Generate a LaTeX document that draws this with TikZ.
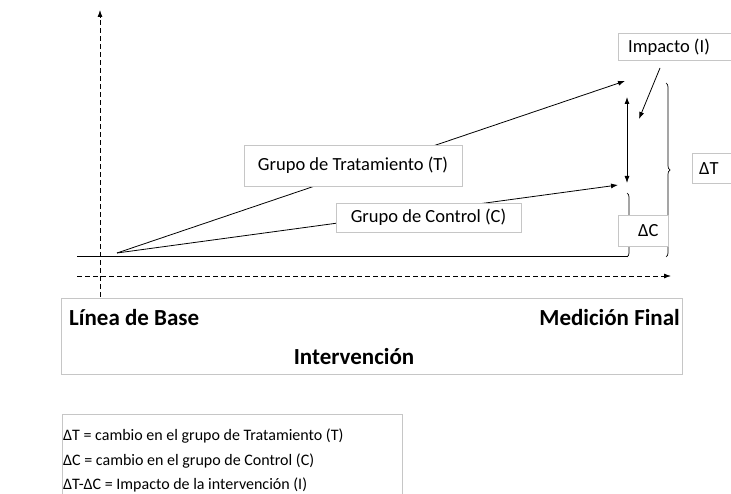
\documentclass[tikz,border=0pt]{standalone}
\usepackage{fontspec}
\setmainfont{Carlito}
\usetikzlibrary{decorations.pathreplacing,arrows.meta}
\begin{document}
\begin{tikzpicture}[x=1pt,y=-1pt,
  boxs/.style={draw=gray!45,fill=white,line width=0.8pt,inner sep=0pt},
  lbl/.style={boxs,font=\fontsize{18.5}{22}\selectfont},
  txt/.style={inner sep=0pt,anchor=west,font=\fontsize{18.5}{22}\selectfont},
  big/.style={font=\fontsize{23}{27}\selectfont\bfseries,inner sep=0pt},
  leg/.style={anchor=west,inner sep=0pt,font=\fontsize{16}{19}\selectfont},
  arr/.style={-{Latex[length=7pt,width=5pt]},line width=0.8pt},
  dasharr/.style={dash pattern=on 5pt off 3pt,line width=0.8pt,-{Latex[length=7pt,width=5pt]}},
  br/.style={decorate,decoration={brace,amplitude=4pt},line width=0.7pt}]
\useasboundingbox (0,0) rectangle (731,494);
% axes
\coordinate (ybot) at (100,297);
\coordinate (ytop) at (100,10);
\coordinate (xl) at (77,276);
\coordinate (xr) at (671,276);
\draw[dasharr] (ybot) -- (ytop);
\draw[dasharr] (xl) -- (xr);
% baseline
\coordinate (bl) at (77,256);
\coordinate (br) at (628,256);
\draw[line width=0.8pt] (bl) -- (br);
% braces
\coordinate (dct) at (627,193);
\coordinate (dcb) at (627,257);
\draw[br] (dct) -- (dcb);
\coordinate (dtt) at (666,83);
\coordinate (dtb) at (666,257);
\draw[br] (dtt) -- (dtb);
% group lines
\coordinate (o) at (117,253);
\coordinate (tend) at (625,81);
\coordinate (cend) at (618,185);
\draw[arr] (o) -- (tend);
\draw[arr] (o) -- (cend);
% impact double arrow
\coordinate (ia) at (627,97);
\coordinate (ib) at (627,183);
\draw[line width=0.8pt,{Latex[length=7pt,width=5pt]}-{Latex[length=7pt,width=5pt]}] (ia) -- (ib);
% labels
\node[lbl,minimum width=218pt,minimum height=41pt] (gt) at (353,165.5) {Grupo de Tratamiento (T)};
\node[lbl,minimum width=185pt,minimum height=29pt] (gc) at (428.5,217.5) {Grupo de Control (C)};
\node[boxs,minimum width=120pt,minimum height=27pt,anchor=west] (imp) at (618,46.5) {};
\node[txt] (impt) at (628,47) {Impacto (I)};
\node[boxs,minimum width=50pt,minimum height=31pt,anchor=west] (dc) at (618,230.5) {};
\node[txt] (dct) at (638,231) {ΔC};
\node[boxs,minimum width=60pt,minimum height=30pt,anchor=west] (dt) at (692,168) {};
\node[txt] (dtt) at (699,169) {ΔT};
\coordinate (ifrom) at (660,68);
\coordinate (ipt) at (639,119);
\draw[arr] (ifrom) -- (ipt);
% bottom box
\node[draw=gray!45,line width=0.8pt,minimum width=621pt,minimum height=76pt,inner sep=0pt] (box) at (371.5,336) {};
\node[big,anchor=west] (lb) at (69,318) {Línea de Base};
\node[big,anchor=east] (mf) at (680,318) {Medición Final};
\node[big] (iv) at (354,357) {Intervención};
% legend
\node[draw=gray!45,line width=0.8pt,anchor=north west,minimum width=340pt,minimum height=90pt,inner sep=0pt] (leg) at (62,414) {};
\node[leg] (l1) at (63,436) {ΔT = cambio en el grupo de Tratamiento (T)};
\node[leg] (l2) at (63,461) {ΔC = cambio en el grupo de Control (C)};
\node[leg] (l3) at (63,485) {ΔT-ΔC = Impacto de la intervención (I)};
\end{tikzpicture}
\end{document}
